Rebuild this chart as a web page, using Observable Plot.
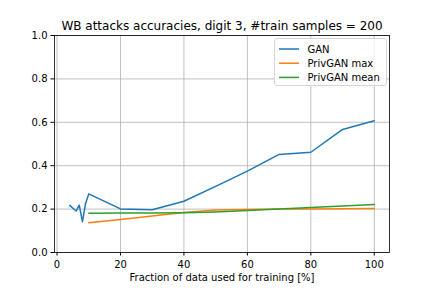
<!DOCTYPE html>
<html>
<head>
<meta charset="utf-8">
<script src="https://cdn.jsdelivr.net/npm/d3@7"></script>
<script src="https://cdn.jsdelivr.net/npm/@observablehq/plot@0.6"></script>
<style>
  html, body { margin: 0; padding: 0; background: white; }
</style>
</head>
<body>
<div id="chart"></div>
<script>
const title = "WB attacks accuracies, digit 3, #train samples = 200";
const xLabel = "Fraction of data used for training [%]";
const xTicks = [0, 20, 40, 60, 80, 100];
const yTicks = [0, 0.2, 0.4, 0.6, 0.8, 1.0];

const ganX = [4, 6, 7, 8, 9, 10, 20, 30, 40, 50, 60, 70, 80, 90, 100];
const ganY = [0.217, 0.191, 0.218, 0.142, 0.226, 0.270, 0.201, 0.197, 0.236, 0.305, 0.375, 0.452, 0.462, 0.567, 0.607];

const privX = [10, 20, 30, 40, 50, 60, 70, 80, 90, 100];
const privMaxY = [0.137, 0.152, 0.168, 0.184, 0.196, 0.198, 0.200, 0.201, 0.202, 0.203];
const privMeanY = [0.181, 0.182, 0.182, 0.183, 0.187, 0.193, 0.200, 0.207, 0.214, 0.221];

const seriesNames = ["GAN", "PrivGAN max", "PrivGAN mean"];
const seriesColors = ["#1f77b4", "#ff7f0e", "#2ca02c"];

const rows = [
  ...ganX.map((x, i) => ({series: seriesNames[0], x, y: ganY[i]})),
  ...privX.map((x, i) => ({series: seriesNames[1], x, y: privMaxY[i]})),
  ...privX.map((x, i) => ({series: seriesNames[2], x, y: privMeanY[i]}))
];

const font = "'DejaVu Sans', sans-serif";

const chart = Plot.plot({
  width: 432,
  height: 288,
  marginLeft: 54,
  marginRight: 43,
  marginTop: 35,
  marginBottom: 36,
  style: {fontFamily: font, fontSize: "10px", background: "white", color: "black"},
  x: {domain: [-0.8, 104.8]},
  y: {domain: [0, 1]},
  color: {domain: seriesNames, range: seriesColors},
  marks: [
    Plot.gridX(xTicks, {stroke: "#b0b0b0", strokeOpacity: 1, strokeWidth: 0.8}),
    Plot.gridY(yTicks, {stroke: "#b0b0b0", strokeOpacity: 1, strokeWidth: 0.8}),
    Plot.line(rows, {x: "x", y: "y", z: "series", stroke: "series", strokeWidth: 1.5}),
    Plot.frame({stroke: "black", strokeWidth: 0.8}),
    Plot.axisX({ticks: xTicks, tickSize: 3.5, tickPadding: 4.5, tickFormat: d => String(d), label: null, fontSize: 10}),
    Plot.axisY({ticks: yTicks, tickSize: 3.5, tickPadding: 3.5, tickFormat: d => d.toFixed(1), label: null, fontSize: 10}),
    Plot.text([xLabel], {frameAnchor: "bottom", dy: 25.5, lineAnchor: "middle", text: d => d, fontSize: 10}),
    Plot.text([title], {frameAnchor: "top", dy: -6, lineAnchor: "bottom", text: d => d, fontSize: 12})
  ]
});

document.getElementById("chart").appendChild(chart);

// Legend (matplotlib style) in upper right of the axes
const NS = "http://www.w3.org/2000/svg";
function el(tag, attrs, parent) {
  const e = document.createElementNS(NS, tag);
  for (const k in attrs) e.setAttribute(k, attrs[k]);
  parent.appendChild(e);
  return e;
}
const lg = el("g", {transform: "translate(274.5,38.5)"}, chart);
el("rect", {x: 0, y: 0, width: 112, height: 47, rx: 2.5, ry: 2.5,
  style: "fill:white;fill-opacity:0.8;stroke:#cccccc;stroke-width:0.8"}, lg);
seriesNames.forEach((name, i) => {
  const yy = 10.5 + i * 14.2;
  el("line", {x1: 4.5, x2: 24.5, y1: yy, y2: yy,
    style: `stroke:${seriesColors[i]};stroke-width:1.5;fill:none`}, lg);
  const t = el("text", {x: 33, y: yy, dy: "0.35em",
    style: `text-anchor:start;font-family:${font};font-size:10px;fill:black`}, lg);
  t.textContent = name;
});
</script>
</body>
</html>
